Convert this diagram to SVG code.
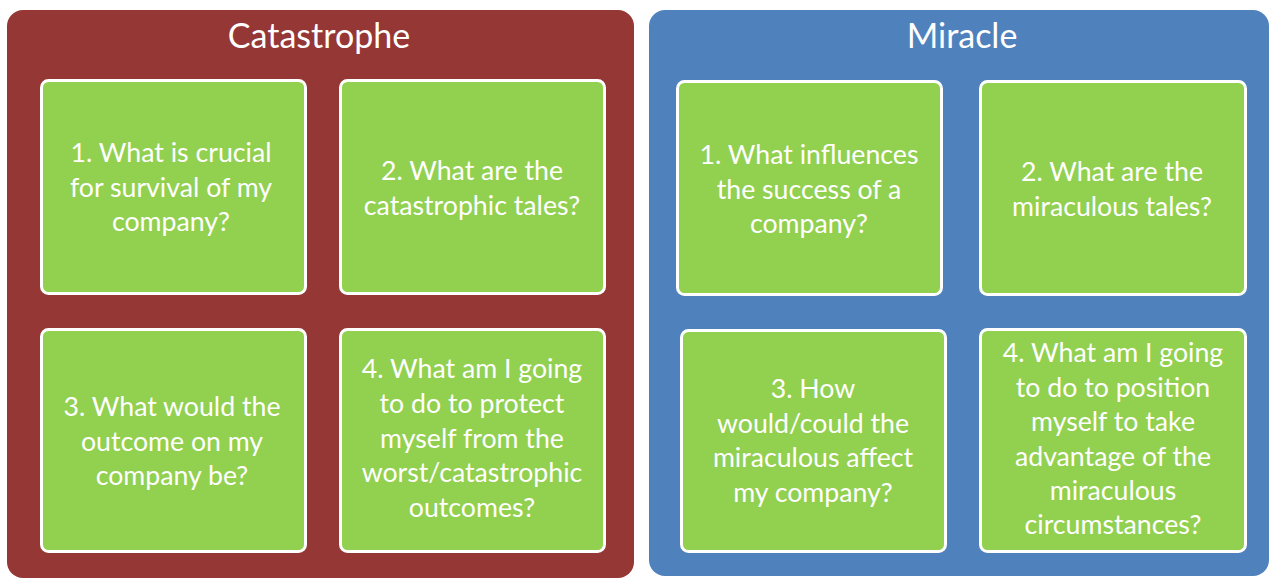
<svg xmlns="http://www.w3.org/2000/svg" width="1271" height="578" viewBox="0 0 1271 578">
<style>
.panel-red{fill:#953735}
.panel-blue{fill:#4F81BD}
.box{fill:#92D050;stroke:#FFFFFF;stroke-width:3}
.title{font-family:Lato,"Open Sans","Liberation Sans",sans-serif;font-size:34px;fill:#FFFFFF;text-anchor:middle}
.t{font-family:Lato,"Open Sans","Liberation Sans",sans-serif;font-size:26.7px;fill:#FFFFFF;text-anchor:middle}
</style>
<rect width="1271" height="578" fill="#FFFFFF"/>
<g id="catastrophe">
<rect class="panel-red" x="7" y="10" width="627" height="568" rx="16"/>
<text class="title" x="319" y="48">Catastrophe</text>
</g>
<g id="miracle">
<rect class="panel-blue" x="649" y="10" width="620" height="566" rx="16"/>
<text class="title" x="962" y="48">Miracle</text>
</g>
<g id="c1">
<rect class="box" x="41.5" y="80.5" width="264" height="213" rx="7"/>
<text class="t"><tspan x="171" y="162">1. What is crucial</tspan><tspan x="171" y="196.5">for survival of my</tspan><tspan x="171" y="231">company?</tspan></text>
</g>
<g id="c2">
<rect class="box" x="340.5" y="80.5" width="264" height="213" rx="7"/>
<text class="t"><tspan x="472" y="180">2. What are the</tspan><tspan x="472" y="214.5">catastrophic tales?</tspan></text>
</g>
<g id="c3">
<rect class="box" x="41.5" y="329.5" width="264" height="222" rx="7"/>
<text class="t"><tspan x="172" y="416">3. What would the</tspan><tspan x="172" y="450.5">outcome on my</tspan><tspan x="172" y="485">company be?</tspan></text>
</g>
<g id="c4">
<rect class="box" x="340.5" y="329.5" width="264" height="222" rx="7"/>
<text class="t"><tspan x="472" y="378">4. What am I going</tspan><tspan x="472" y="413">to do to protect</tspan><tspan x="472" y="447.5">myself from the</tspan><tspan x="472" y="482">worst/catastrophic</tspan><tspan x="472" y="517">outcomes?</tspan></text>
</g>
<g id="m1">
<rect class="box" x="677.5" y="81.5" width="264" height="213" rx="7"/>
<text class="t"><tspan x="809" y="164">1. What influences</tspan><tspan x="809" y="198.5">the success of a</tspan><tspan x="809" y="233">company?</tspan></text>
</g>
<g id="m2">
<rect class="box" x="980.5" y="81.5" width="265" height="213" rx="7"/>
<text class="t"><tspan x="1112" y="181">2. What are the</tspan><tspan x="1112" y="215.5">miraculous tales?</tspan></text>
</g>
<g id="m3">
<rect class="box" x="681.5" y="330.5" width="264" height="221" rx="7"/>
<text class="t"><tspan x="813" y="398">3. How</tspan><tspan x="813" y="432.5">would/could the</tspan><tspan x="813" y="467">miraculous affect</tspan><tspan x="813" y="501.5">my company?</tspan></text>
</g>
<g id="m4">
<rect class="box" x="980.5" y="329.5" width="265" height="222" rx="7"/>
<text class="t"><tspan x="1113" y="362">4. What am I going</tspan><tspan x="1113" y="396.5">to do to position</tspan><tspan x="1113" y="431">myself to take</tspan><tspan x="1113" y="465.5">advantage of the</tspan><tspan x="1113" y="500">miraculous</tspan><tspan x="1113" y="534">circumstances?</tspan></text>
</g>
<g id="connectors"></g>
</svg>
